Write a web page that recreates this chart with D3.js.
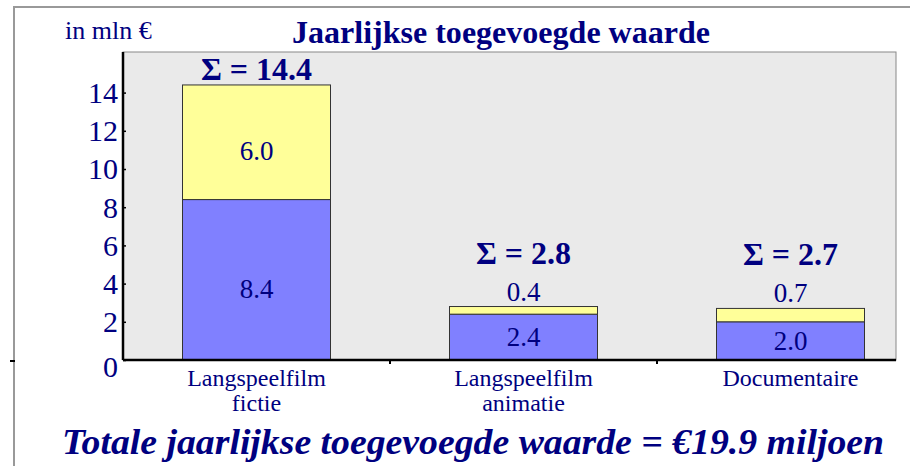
<!DOCTYPE html>
<html>
<head>
<meta charset="utf-8">
<script src="https://cdn.jsdelivr.net/npm/d3@7"></script>
<style>
  body { margin: 0; background: #fff; }
  svg text { font-family: "Liberation Serif", "DejaVu Serif", serif; fill: #000080; }
</style>
</head>
<body>
<script>
// data
const categories = ["Langspeelfilm\nfictie", "Langspeelfilm\nanimatie", "Documentaire"];
const baseValues = [8.4, 2.4, 2.0];
const topValues = [6.0, 0.4, 0.7];
const totals = [14.4, 2.8, 2.7];
const yTicks = [0, 2, 4, 6, 8, 10, 12, 14];

const width = 910;
const height = 466;
const plot = {left: 123, top: 52, right: 896, bottom: 360};

const svg = d3.select('body')
  .append('svg')
  .attr('width', width)
  .attr('height', height)
  .attr('font-family', '"Liberation Serif", serif');

// outer frame
svg.append('rect')
  .attr('x', 14).attr('y', 7)
  .attr('width', width).attr('height', height)
  .attr('fill', 'none')
  .attr('stroke', '#999')
  .attr('stroke-width', 2);

svg.append('line')
  .attr('x1', 10).attr('x2', 15)
  .attr('y1', 361).attr('y2', 361)
  .attr('stroke', '#000').attr('stroke-width', 2);

const x = d3.scaleBand()
  .domain(categories)
  .range([plot.left, plot.left + 3 * 267])
  .paddingInner(0)
  .paddingOuter(0);

const y = d3.scaleLinear()
  .domain([0, 16])
  .range([plot.bottom, plot.bottom - 16 * 19.1]);

const barW = 148;

// plot area
svg.append('rect')
  .attr('x', plot.left).attr('y', plot.top)
  .attr('width', plot.right - plot.left).attr('height', plot.bottom - plot.top)
  .attr('fill', '#eaeaea')
  .attr('stroke', '#888')
  .attr('stroke-width', 1);

svg.append('defs').append('clipPath').attr('id', 'clip')
  .append('rect')
  .attr('x', plot.left).attr('y', plot.top)
  .attr('width', plot.right - plot.left).attr('height', plot.bottom - plot.top);

const g = svg.append('g').attr('clip-path', 'url(#clip)');

const rows = categories.map((c, i) => ({c: c, base: baseValues[i], top: topValues[i], total: totals[i]}));

const cx = d => x(d.c) + x.bandwidth() / 2;

// blue segment
g.selectAll('.base')
  .data(rows)
  .enter().append('rect')
  .attr('class', 'base')
  .attr('x', d => cx(d) - barW / 2)
  .attr('y', d => y(d.base))
  .attr('width', barW)
  .attr('height', d => y(0) - y(d.base))
  .attr('fill', '#8080ff')
  .attr('stroke', '#333')
  .attr('stroke-width', 1);

// yellow segment
g.selectAll('.top')
  .data(rows)
  .enter().append('rect')
  .attr('class', 'top')
  .attr('x', d => cx(d) - barW / 2)
  .attr('y', d => y(d.base + d.top))
  .attr('width', barW)
  .attr('height', d => y(d.base) - y(d.base + d.top))
  .attr('fill', '#ffff99')
  .attr('stroke', '#333')
  .attr('stroke-width', 1);

// axes
const yAxis = svg.append('g')
  .attr('transform', `translate(${plot.left},0)`)
  .call(d3.axisLeft(y).tickValues(yTicks).tickSize(-3).tickSizeOuter(0).tickPadding(8));
yAxis.attr('font-family', '"Liberation Serif", serif');
yAxis.select('.domain').attr('stroke', '#000').attr('stroke-width', 2.5)
  .attr('d', `M0,${plot.top}V${plot.bottom}`);
yAxis.selectAll('.tick line').attr('stroke', '#000').attr('stroke-width', 1.5);
yAxis.selectAll('.tick text')
  .attr('fill', '#000080')
  .attr('font-size', 30)
  .attr('dy', d => d === 0 ? '0.55em' : '0.33em')
  .attr('x', -5);

svg.append('line')
  .attr('x1', plot.left).attr('x2', plot.right)
  .attr('y1', plot.bottom).attr('y2', plot.bottom)
  .attr('stroke', '#000').attr('stroke-width', 2.5);

svg.selectAll('.xtick')
  .data(categories.slice(1))
  .enter().append('line')
  .attr('x1', d => x(d)).attr('x2', d => x(d))
  .attr('y1', plot.bottom).attr('y2', plot.bottom + 4)
  .attr('stroke', '#000').attr('stroke-width', 2);

// category labels
const xl = svg.selectAll('.xlabel')
  .data(rows)
  .enter().append('text')
  .attr('class', 'xlabel')
  .attr('text-anchor', 'middle')
  .attr('font-size', 24)
  .attr('y', 386);
xl.selectAll('tspan')
  .data(d => d.c.split('\n').map(t => ({t: t, x: cx(d)})))
  .enter().append('tspan')
  .attr('x', d => d.x)
  .attr('dy', (d, i) => i ? 25 : 0)
  .text(d => d.t);

// segment value labels
const segY = (lo, hi) => {
  const mid = (y(lo) + y(hi)) / 2;
  return mid + 9 + (y(lo) - y(hi) > 100 ? 9 : 0);
};

svg.selectAll('.lbase')
  .data(rows)
  .enter().append('text')
  .attr('text-anchor', 'middle')
  .attr('font-size', 27)
  .attr('x', cx)
  .attr('y', d => segY(0, d.base))
  .text(d => d3.format('.1f')(d.base));

svg.selectAll('.ltop')
  .data(rows)
  .enter().append('text')
  .attr('text-anchor', 'middle')
  .attr('font-size', 27)
  .attr('x', cx)
  .attr('y', d => d.top > 1 ? segY(d.base, d.total) : y(d.total) - 6)
  .text(d => d3.format('.1f')(d.top));

svg.selectAll('.ltotal')
  .data(rows)
  .enter().append('text')
  .attr('text-anchor', 'middle')
  .attr('font-size', 32)
  .attr('font-weight', 'bold')
  .attr('x', cx)
  .attr('y', d => y(d.total) - (d.top > 1 ? 5 : 43))
  .text(d => 'Σ = ' + d3.format('.1f')(d.total));

// titles
svg.append('text')
  .attr('x', 65).attr('y', 39)
  .attr('font-size', 26)
  .text('in mln €');

svg.append('text')
  .attr('x', 292).attr('y', 43)
  .attr('font-size', 31)
  .attr('font-weight', 'bold')
  .attr('textLength', 418)
  .attr('lengthAdjust', 'spacingAndGlyphs')
  .text('Jaarlijkse toegevoegde waarde');

svg.append('text')
  .attr('x', 62).attr('y', 454)
  .attr('font-size', 35)
  .attr('font-weight', 'bold')
  .attr('font-style', 'italic')
  .attr('textLength', 822)
  .attr('lengthAdjust', 'spacingAndGlyphs')
  .text('Totale jaarlijkse toegevoegde waarde = €19.9 miljoen');
</script>
</body>
</html>
